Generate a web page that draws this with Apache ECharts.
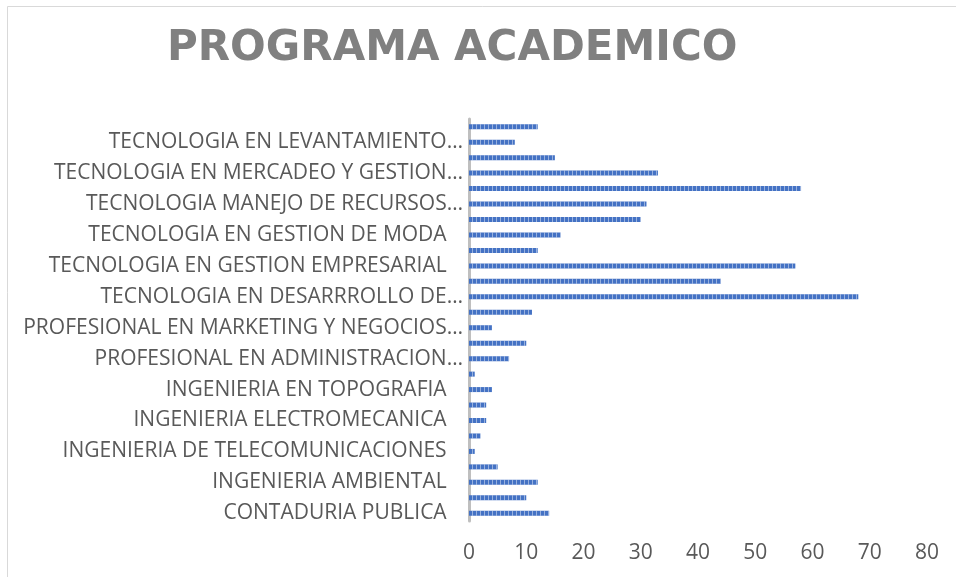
<!DOCTYPE html>
<html>
<head>
<meta charset="utf-8">
<script src="https://cdn.jsdelivr.net/npm/echarts@6/dist/echarts.min.js"></script>
<style>
  html, body { margin: 0; padding: 0; background: #fff; }
  #main { width: 956px; height: 577px; }
</style>
</head>
<body>
<div id="main"></div>
<script>
// programas, de abajo hacia arriba (como en el eje)
var programas = [
  'CONTADURIA PUBLICA',
  'DERECHO',
  'INGENIERIA AMBIENTAL',
  'INGENIERIA CIVIL',
  'INGENIERIA DE TELECOMUNICACIONES',
  'INGENIERIA ELECTRICA',
  'INGENIERIA ELECTROMECANICA',
  'INGENIERIA EN SISTEMAS',
  'INGENIERIA EN TOPOGRAFIA',
  'INGENIERIA INDUSTRIAL',
  'PROFESIONAL EN ADMINISTRACION…',
  'PROFESIONAL EN DISEÑO…',
  'PROFESIONAL EN MARKETING Y NEGOCIOS…',
  'TECNOLOGIA EN CONTABILIDAD…',
  'TECNOLOGIA EN DESARRROLLO DE…',
  'TECNOLOGIA EN GESTION ADMINISTRATIVA',
  'TECNOLOGIA EN GESTION EMPRESARIAL',
  'TECNOLOGIA EN GESTION AMBIENTAL',
  'TECNOLOGIA EN GESTION DE MODA',
  'TECNOLOGIA EN GESTION LOGISTICA',
  'TECNOLOGIA MANEJO DE RECURSOS…',
  'TECNOLOGIA EN GESTION TURISTICA',
  'TECNOLOGIA EN MERCADEO Y GESTION…',
  'TECNOLOGIA EN OBRAS CIVILES',
  'TECNOLOGIA EN LEVANTAMIENTO…',
  'TECNOLOGIA EN SISTEMAS'
];
var estudiantes = [14, 10, 12, 5, 1, 2, 3, 3, 4, 1, 7, 10, 4, 11, 68, 44, 57, 12, 16, 30, 31, 58, 33, 15, 8, 12];
var ticksX = [0, 80, 10];

var chart = echarts.init(document.getElementById('main'));

chart.setOption({
  backgroundColor: '#fff',
  animation: false,
  title: {
    text: 'PROGRAMA ACADEMICO',
    left: 162,
    top: 23,
    textStyle: {
      fontFamily: 'DejaVu Sans',
      fontWeight: 'bold',
      fontSize: 42,
      color: '#808080'
    }
  },
  graphic: [{
    type: 'rect',
    shape: { x: 7.5, y: 6.5, width: 1000, height: 700 },
    style: { fill: 'none', stroke: '#d9d9d9', lineWidth: 1 },
    silent: true
  }],
  grid: { left: 469, right: 29, top: 119, bottom: 56, containLabel: false },
  xAxis: {
    type: 'value',
    min: ticksX[0],
    max: ticksX[1],
    interval: ticksX[2],
    axisLine: { show: false },
    axisTick: { show: false },
    splitLine: { show: false },
    axisLabel: {
      margin: 22,
      fontFamily: 'Open Sans',
      fontSize: 21,
      color: '#595959'
    }
  },
  yAxis: {
    type: 'category',
    data: programas,
    axisLine: { show: true, lineStyle: { color: '#bfbfbf', width: 3 } },
    axisTick: { show: false },
    axisLabel: {
      interval: 1,
      margin: 6,
      fontFamily: 'Open Sans',
      fontSize: 21,
      color: '#595959',
      padding: [3, 0, 0, 0],
      formatter: function (v) {
        return v.slice(-1) === '…' ? v : v + '\u00a0\u00a0\u00a0';
      }
    }
  },
  series: [{
    type: 'bar',
    data: estudiantes,
    barWidth: 5,
    itemStyle: {
      color: '#4472c4',
      decal: {
        symbol: 'rect',
        symbolSize: 1,
        color: 'rgba(255,255,255,0.45)',
        dashArrayX: [1, 3],
        dashArrayY: [6, 0],
        rotation: 0
      }
    }
  }]
});
</script>
</body>
</html>
